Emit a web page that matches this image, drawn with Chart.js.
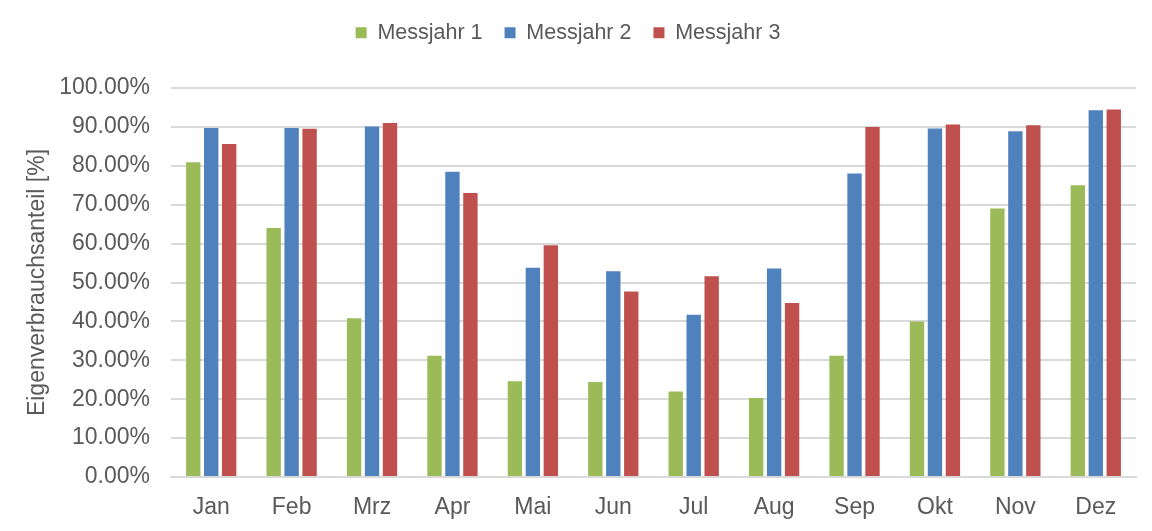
<!DOCTYPE html>
<html>
<head>
<meta charset="utf-8">
<style>
  html, body { margin: 0; padding: 0; background: #fff; }
  #wrap { width: 1152px; height: 531px; }
</style>
</head>
<body>
<div id="wrap">
    <canvas id="myChart"></canvas>
</div>
<script src="https://cdn.jsdelivr.net/npm/chart.js"></script>
<script>
    // Monate und Messwerte (Anteil in %)
    const months = ['Jan', 'Feb', 'Mrz', 'Apr', 'Mai', 'Jun', 'Jul', 'Aug', 'Sep', 'Okt', 'Nov', 'Dez'];
    const messjahr1 = [80.9, 64.0, 40.8, 31.2, 24.6, 24.4, 22.0, 20.3, 31.2, 40.0, 69.0, 75.0];
    const messjahr2 = [89.7, 89.7, 90.1, 78.5, 53.8, 52.9, 41.7, 53.6, 78.0, 89.6, 88.9, 94.3];
    const messjahr3 = [85.6, 89.5, 91.0, 73.0, 59.6, 47.7, 51.6, 44.7, 90.0, 90.6, 90.4, 94.5];
    const yTicks = [0, 10, 20, 30, 40, 50, 60, 70, 80, 90, 100];

    const textColor = '#595959';
    const gridColor = '#d9d9d9';
    const fontFamily = '"Liberation Sans", Arial, sans-serif';

    // Legende hoeher machen, damit der Plotbereich bei y=88 beginnt
    const legendHeight = {
        id: 'legendHeight',
        beforeInit(chart) {
            const fit = chart.legend.fit;
            chart.legend.fit = function () {
                fit.bind(chart.legend)();
                this.height = 88;
            };
        }
    };

    const ctx = document.getElementById('myChart');

    new Chart(ctx, {
        type: 'bar',
        data: {
            labels: months,
            datasets: [
                { label: 'Messjahr 1', data: messjahr1, backgroundColor: '#9bbb59' },
                { label: 'Messjahr 2', data: messjahr2, backgroundColor: '#4f81bd' },
                { label: 'Messjahr 3', data: messjahr3, backgroundColor: '#c0504d' }
            ]
        },
        options: {
            responsive: true,
            maintainAspectRatio: false,
            animation: false,
            datasets: {
                bar: { categoryPercentage: 0.67, barPercentage: 0.8 }
            },
            layout: { padding: { left: 0, right: 16, top: 0, bottom: 0 } },
            scales: {
                x: {
                    grid: { display: false, drawTicks: false },
                    border: { display: true, color: gridColor, width: 2 },
                    ticks: {
                        color: textColor,
                        padding: 17,
                        font: { family: fontFamily, size: 23 }
                    },
                    afterFit(scale) { scale.height = 54; }
                },
                y: {
                    min: 0,
                    max: 100,
                    afterBuildTicks(scale) {
                        scale.ticks = yTicks.map(v => ({ value: v }));
                    },
                    grid: { color: gridColor, lineWidth: 2, drawTicks: false },
                    border: { display: false },
                    ticks: {
                        color: textColor,
                        padding: 21,
                        font: { family: fontFamily, size: 23 },
                        callback: v => v.toFixed(2) + '%'
                    },
                    title: {
                        display: true,
                        text: 'Eigenverbrauchsanteil [%]',
                        color: textColor,
                        font: { family: fontFamily, size: 23 },
                        padding: { top: 24, bottom: 0 }
                    },
                    afterFit(scale) { scale.width = 171; }
                }
            },
            plugins: {
                legend: {
                    position: 'top',
                    labels: {
                        color: textColor,
                        boxWidth: 11,
                        boxHeight: 11,
                        padding: 22,
                        font: { family: fontFamily, size: 21.5 }
                    }
                },
                tooltip: { enabled: false }
            }
        },
        plugins: [legendHeight]
    });
</script>
</body>
</html>
